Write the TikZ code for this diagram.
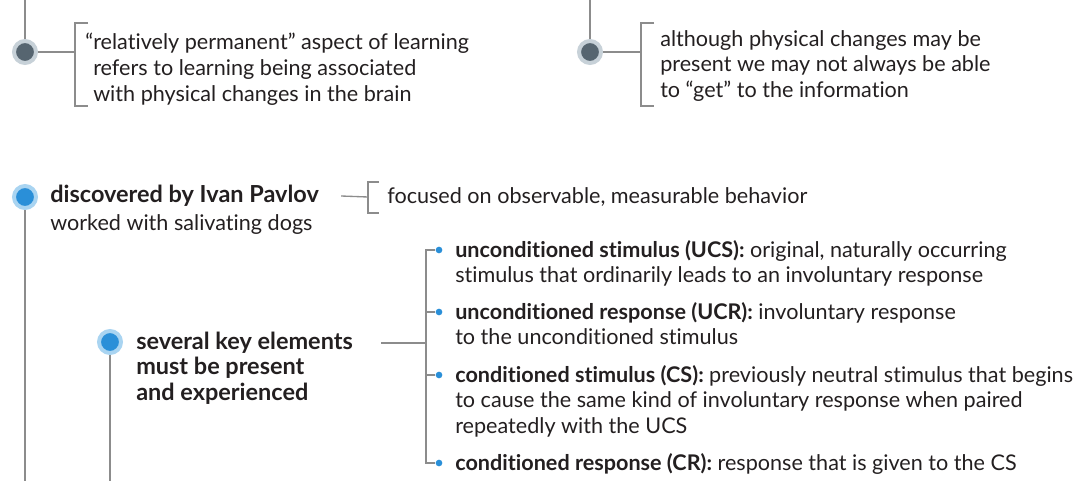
\documentclass[tikz,border=0pt]{standalone}
\usepackage{fontspec}
\setmainfont{Lato}[Ligatures={TeX,NoCommon}]
\usetikzlibrary{calc}
\definecolor{ink}{RGB}{35,31,32}
\definecolor{linegray}{RGB}{140,140,140}
\definecolor{slatedark}{RGB}{86,101,112}
\definecolor{slatelight}{RGB}{199,209,216}
\definecolor{bluedark}{RGB}{42,143,216}
\definecolor{bluelight}{RGB}{169,212,241}

\tikzset{
  stem/.style={draw=linegray, line width=1pt},
  graydot/.style={circle, fill=slatedark, draw=slatelight, line width=3pt, minimum size=16.5pt, inner sep=0pt},
  bluedot/.style={circle, fill=bluedark, draw=bluelight, line width=3pt, minimum size=16.5pt, inner sep=0pt},
  smalldot/.style={circle, fill=bluedark, minimum size=5pt, inner sep=0pt},
  bodytext/.style={anchor=west, align=left, inner sep=0pt, text=ink, font=\fontsize{16.2}{19.3}\selectfont},
  headtext/.style={bodytext, font=\fontsize{17.6}{19.3}\selectfont\bfseries}
}

\begin{document}
\begin{tikzpicture}[x=0.75pt,y=0.75pt,yscale=-1,xscale=1]
\useasboundingbox (0,0) rectangle (1088,481);

%Top row: physical changes
\coordinate (topA) at (25,0);
\node [graydot] (dotA) at (25,52) {};
\draw [stem] (topA) -- (dotA);
\coordinate (brA) at (75,52);
\draw [stem] (dotA) -- (brA);
\draw [stem] ($(brA)+(13,-29)$) -- ++(-13,0) -- ++(0,83) -- ++(13,0);
\node [bodytext] (txtA) at (93,69) {\llap{“}relatively permanent” aspect of learning\\refers to learning being associated\\with physical changes in the brain};

\coordinate (topB) at (590,0);
\node [graydot] (dotB) at (590,52) {};
\draw [stem] (topB) -- (dotB);
\coordinate (brB) at (641,52);
\draw [stem] (dotB) -- (brB);
\draw [stem] ($(brB)+(13,-29)$) -- ++(-13,0) -- ++(0,83) -- ++(13,0);
\node [bodytext] (txtB) at (660,66) {although physical changes may be\\present we may not always be able\\to “get” to the information};

%Pavlov
\node [bluedot] (dotC) at (25,197) {};
\coordinate (botC) at (25,481);
\draw [stem] (dotC) -- (botC);
\node [headtext] (pavlov) at (50,196) {discovered by Ivan Pavlov};
\node [bodytext] (dogs) at (50,225) {worked with salivating dogs};
\coordinate (brC) at (368,197);
\draw [stem] (pavlov.east)++(22,0) -- (brC);
\draw [stem] ($(brC)+(11,-15)$) -- ++(-11,0) -- ++(0,31) -- ++(11,0);
\node [bodytext] (focus) at (387,197) {focused on observable, measurable behavior};

%Key elements
\node [bluedot] (dotD) at (110,342) {};
\coordinate (botD) at (110,481);
\draw [stem] (dotD) -- (botD);
\node [headtext] (keys) at (136,368) {several key elements\\must be present\\and experienced};
\coordinate (brD) at (426,343);
\draw [stem] (381,343) -- (brD);

\node [smalldot] (ucs) at (439,250) {};
\node [smalldot] (ucr) at (439,312) {};
\node [smalldot] (cs) at (439,375) {};
\node [smalldot] (cr) at (439,463) {};
\draw [stem] (ucs) -| (brD) |- (cr);
\draw [stem] (ucr) -- (ucr -| brD);
\draw [stem] (cs) -- (cs -| brD);

\node [bodytext, anchor=north west] (ucstxt) at (455,240) {\textbf{unconditioned stimulus (UCS):} original, naturally occurring\\stimulus that ordinarily leads to an involuntary response};
\node [bodytext, anchor=north west] (ucrtxt) at (455,302) {\textbf{unconditioned response (UCR):} involuntary response\\to the unconditioned stimulus};
\node [bodytext, anchor=north west] (cstxt) at (455,365) {\textbf{conditioned stimulus (CS):} previously neutral stimulus that begins\\to cause the same kind of involuntary response when paired\\repeatedly with the UCS};
\node [bodytext, anchor=north west] (crtxt) at (455,453) {\textbf{conditioned response (CR):} response that is given to the CS};

\end{tikzpicture}
\end{document}
